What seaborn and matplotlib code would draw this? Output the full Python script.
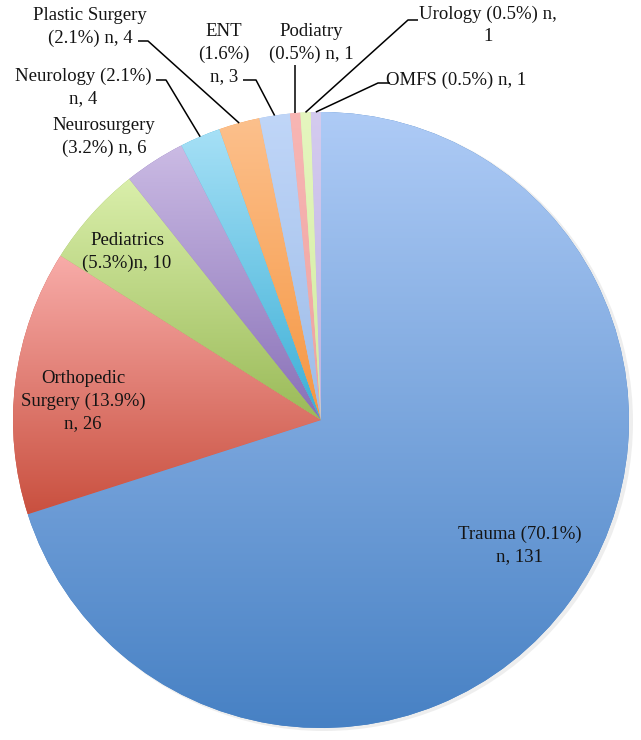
import numpy as np
import matplotlib
matplotlib.use("Agg")
import matplotlib.pyplot as plt
import seaborn as sns
from matplotlib.colors import to_rgb

# ---- data ----
categories = ["Trauma", "Orthopedic Surgery", "Pediatrics", "Neurosurgery", "Neurology",
              "Plastic Surgery", "ENT", "Podiatry", "Urology", "OMFS"]
counts = [131, 26, 10, 6, 4, 4, 3, 1, 1, 1]
labels = ["Trauma (70.1%)\nn, 131",
          "Orthopedic\nSurgery (13.9%)\nn, 26",
          "Pediatrics\n(5.3%)n, 10",
          "Neurosurgery\n(3.2%) n, 6",
          "Neurology (2.1%)\nn, 4",
          "Plastic Surgery\n(2.1%) n, 4",
          "ENT\n(1.6%)\nn, 3",
          "Podiatry\n(0.5%) n, 1",
          "Urology (0.5%) n,\n1",
          "OMFS (0.5%) n, 1"]
top_colors = ["#aecbf6", "#f8aca9", "#daefab", "#cbbbe4", "#a6e0f6",
              "#fcc08c", "#c0d6f8", "#f8b6b4", "#e5f6bf", "#d4cbef"]
bottom_colors = ["#4781c4", "#c9503f", "#9aba58", "#8870b7", "#3bafd6",
                 "#f69641", "#9dbce8", "#eda2a0", "#d2eba0", "#bdb2e3"]

sns.set_theme(style="white")
plt.rcParams["font.family"] = ["Liberation Serif", "DejaVu Serif"]

W, H = 641, 740
fig = plt.figure(figsize=(W / 100, H / 100), dpi=100)
ax = fig.add_axes([0, 0, 1, 1])

def Y(y):
    return H - y

cx, cy, R = 321, 420, 308
palette = sns.color_palette(bottom_colors)

# subtle drop shadow
shadow = plt.Circle((cx + 3, Y(cy) - 2), R + 1, color="#d0d0d0", alpha=0.35, lw=0, zorder=0)
ax.add_patch(shadow)

wedges, _ = ax.pie(counts, startangle=90, counterclock=False, center=(cx, Y(cy)),
                   radius=R, colors=palette, wedgeprops=dict(linewidth=0),
                   frame=True)

for w, tc, bc in zip(wedges, top_colors, bottom_colors):
    ext = w.get_path().get_extents()
    t = np.linspace(0, 1, 256)[:, None]
    c0 = np.array(to_rgb(tc)); c1 = np.array(to_rgb(bc))
    grad = (c0[None, :] * (1 - t) + c1[None, :] * t)[:, None, :]
    im = ax.imshow(grad, extent=[ext.x0, ext.x1, ext.y0, ext.y1], origin="upper",
                   aspect="auto", interpolation="bilinear", zorder=w.get_zorder() + 0.1)
    im.set_clip_path(w)

ax.set_xlim(0, W)
ax.set_ylim(0, H)
ax.axis("off")

txt_kw = dict(ha="center", va="center", fontsize=13.5, color="#141414", linespacing=1.38, zorder=5)
label_pos = [(520, 545), (83, 401), (127, 252), (104, 137), (83, 87),
             (90, 27), (224, 54), (311, 43), (488, 25), (456, 80)]
for lab, (x, y) in zip(labels, label_pos):
    ax.text(x, Y(y), lab, **txt_kw)

# leader lines: elbow points, ending on the wedge's arc midpoint
def arc_mid(i, rr=R):
    w = wedges[i]
    th = np.deg2rad((w.theta1 + w.theta2) / 2)
    return cx + rr * np.cos(th), Y(cy) + rr * np.sin(th)

leaders = {4: [(156, 80), (166, 80)],
           5: [(138, 41), (148, 41)],
           6: [(243, 80), (256, 80)],
           7: [(295, 65)],
           8: [(418, 20), (408, 20)],
           9: [(390, 83), (378, 83)]}
for i, pts in leaders.items():
    xs = [p[0] for p in pts]
    ys = [Y(p[1]) for p in pts]
    ex, ey = arc_mid(i)
    if len(pts) == 1:
        ex = xs[0]
    xs.append(ex); ys.append(ey)
    ax.plot(xs, ys, color="black", lw=1.1, zorder=6, solid_capstyle="butt")

fig.savefig("out.png", dpi=100)
